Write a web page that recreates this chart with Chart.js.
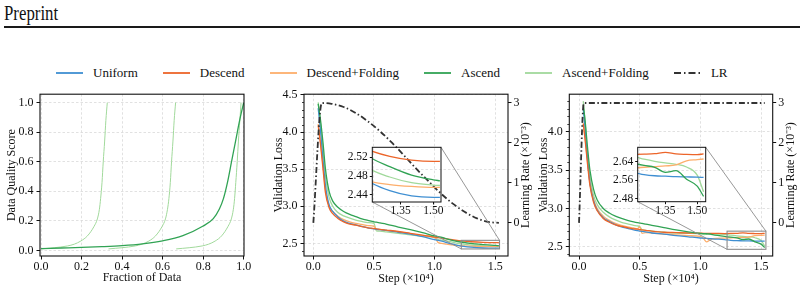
<!DOCTYPE html>
<html lang="en">
<head>
<meta charset="utf-8">
<title>Curvas de pérdida</title>
<script src="https://cdn.jsdelivr.net/npm/chart.js@4.4.1/dist/chart.umd.min.js"></script>
<style>
  html, body { margin: 0; padding: 0; background: #fff; }
  body { position: relative; width: 804px; height: 293px; overflow: hidden; font-family: 'Liberation Serif', 'Times New Roman', serif; color: #111; }
  #cabecera { position: absolute; left: 4px; top: 1px; font-size: 20px; line-height: 24px; transform: scaleX(0.84); transform-origin: left top; }
  #regla { position: absolute; left: 4px; top: 26px; width: 796px; height: 1.5px; background: #1a1a1a; }
  #leyenda { position: absolute; left: 56px; top: 64px; height: 18px; display: flex; align-items: center; gap: 25px; font-size: 13px; white-space: nowrap; }
  .item { display: flex; align-items: center; }
  .item svg { margin-right: 10px; display: block; }
  canvas { position: absolute; }
</style>
</head>
<body>
<div id="cabecera">Preprint</div>
<div id="regla"></div>
<div id="leyenda"></div>
<canvas id="graficaCalidad" width="262" height="209" style="left:0;top:84px"></canvas>
<canvas id="graficaCoseno" width="276" height="209" style="left:262px;top:84px"></canvas>
<canvas id="graficaConstante" width="274" height="209" style="left:530px;top:84px"></canvas>
<canvas id="zoomCoseno" width="116" height="88" style="left:330px;top:138px"></canvas>
<canvas id="zoomConstante" width="115" height="88" style="left:596px;top:138px"></canvas>
<script>
// Series y colores
var nombres = ['Uniform', 'Descend', 'Descend+Folding', 'Ascend', 'Ascend+Folding'];
var colores = ['#3f8fd2', '#ec652a', '#fdae6b', '#31a354', '#a1d99b'];
var colorLr = '#333333';

// Panel izquierdo: calidad de datos vs fracción de datos
var fraccionAsc = [0, 0.1, 0.2, 0.3, 0.4, 0.5, 0.6, 0.7, 0.8, 0.85, 0.88, 0.9, 0.92, 0.94, 0.96, 0.98, 1.0];
var calidadAsc = [0.012, 0.016, 0.02, 0.025, 0.032, 0.044, 0.065, 0.1, 0.165, 0.215, 0.28, 0.35, 0.46, 0.6, 0.74, 0.88, 1.0];
var fraccionPleg1 = [0, 0.033, 0.065, 0.098, 0.131, 0.164, 0.196, 0.229, 0.262, 0.278, 0.288, 0.294, 0.301, 0.307, 0.314, 0.32, 0.327];
var fraccionPleg2 = [0.333, 0.366, 0.399, 0.432, 0.465, 0.498, 0.532, 0.565, 0.598, 0.614, 0.624, 0.631, 0.638, 0.644, 0.651, 0.657, 0.664];
var fraccionPleg3 = [0.667, 0.699, 0.731, 0.763, 0.795, 0.827, 0.859, 0.891, 0.923, 0.939, 0.949, 0.955, 0.961, 0.968, 0.974, 0.981, 0.987];
var calidadPleg = [0.01, 0.014, 0.018, 0.023, 0.03, 0.042, 0.063, 0.098, 0.163, 0.213, 0.278, 0.35, 0.46, 0.6, 0.74, 0.88, 1.0];

// Panel central: LR coseno
var pasosCos = [0.04, 0.06, 0.08, 0.1, 0.13, 0.16, 0.2, 0.25, 0.3, 0.35, 0.4, 0.45, 0.5, 0.52, 0.55, 0.6, 0.7, 0.8, 0.9, 1.0, 1.03, 1.06, 1.1, 1.2, 1.3, 1.4, 1.5, 1.53];
var uniformeCos = [4.32, 4.0, 3.62, 3.28, 3.02, 2.93, 2.86, 2.8, 2.77, 2.75, 2.73, 2.71, 2.695, 2.69, 2.685, 2.675, 2.65, 2.625, 2.59, 2.55, 2.54, 2.53, 2.51, 2.47, 2.449, 2.438, 2.435, 2.435];
var descCos = [4.09, 3.82, 3.5, 3.18, 2.98, 2.9, 2.84, 2.79, 2.76, 2.745, 2.725, 2.71, 2.7, 2.695, 2.69, 2.68, 2.66, 2.635, 2.61, 2.585, 2.578, 2.57, 2.56, 2.536, 2.522, 2.514, 2.511, 2.511];
var descPlegCos = [4.11, 3.85, 3.55, 3.22, 3.0, 2.93, 2.87, 2.82, 2.79, 2.77, 2.755, 2.74, 2.73, 2.69, 2.685, 2.675, 2.655, 2.63, 2.605, 2.58, 2.51, 2.5, 2.49, 2.47, 2.462, 2.458, 2.456, 2.456];
var ascCos = [4.38, 4.15, 3.85, 3.5, 3.2, 3.07, 2.99, 2.93, 2.89, 2.86, 2.83, 2.81, 2.79, 2.785, 2.775, 2.76, 2.72, 2.685, 2.645, 2.6, 2.59, 2.58, 2.56, 2.522, 2.5, 2.482, 2.472, 2.47];
var ascPlegCos = [4.4, 4.1, 3.75, 3.4, 3.12, 3.0, 2.92, 2.87, 2.84, 2.815, 2.795, 2.78, 2.77, 2.67, 2.665, 2.655, 2.635, 2.615, 2.595, 2.58, 2.55, 2.545, 2.535, 2.497, 2.478, 2.466, 2.461, 2.46];
var pasosLrCos = [0, 0.07, 0.15, 0.25, 0.35, 0.45, 0.55, 0.65, 0.75, 0.85, 0.95, 1.05, 1.15, 1.25, 1.35, 1.45, 1.53];
var lrCos = [0, 3.0, 2.98, 2.9, 2.75, 2.54, 2.29, 2.0, 1.68, 1.35, 1.04, 0.74, 0.48, 0.27, 0.11, 0.02, 0.0];

// Panel derecho: LR constante
var pasosCte = [0.035, 0.05, 0.07, 0.09, 0.12, 0.15, 0.2, 0.25, 0.3, 0.35, 0.4, 0.45, 0.48, 0.5, 0.52, 0.55, 0.6, 0.7, 0.8, 0.9, 1.0, 1.03, 1.05, 1.08, 1.1, 1.2, 1.25, 1.3, 1.35, 1.4, 1.45, 1.5, 1.53];
var uniformeCte = [4.3, 4.05, 3.65, 3.33, 3.1, 2.98, 2.88, 2.83, 2.79, 2.76, 2.74, 2.72, 2.71, 2.705, 2.7, 2.695, 2.68, 2.665, 2.645, 2.63, 2.615, 2.612, 2.61, 2.606, 2.603, 2.594, 2.585, 2.58, 2.578, 2.576, 2.575, 2.574, 2.573];
var descCte = [4.11, 3.9, 3.58, 3.3, 3.08, 2.97, 2.87, 2.82, 2.785, 2.765, 2.75, 2.735, 2.73, 2.725, 2.72, 2.715, 2.705, 2.69, 2.685, 2.68, 2.677, 2.676, 2.676, 2.675, 2.675, 2.673, 2.674, 2.676, 2.682, 2.675, 2.673, 2.672, 2.675];
var descPlegCte = [4.1, 3.92, 3.62, 3.34, 3.12, 3.0, 2.9, 2.845, 2.805, 2.78, 2.76, 2.745, 2.735, 2.76, 2.675, 2.685, 2.68, 2.665, 2.655, 2.645, 2.635, 2.6, 2.565, 2.59, 2.605, 2.614, 2.617, 2.62, 2.623, 2.627, 2.645, 2.65, 2.653];
var ascCte = [4.35, 4.15, 3.8, 3.5, 3.25, 3.11, 3.0, 2.94, 2.9, 2.87, 2.845, 2.825, 2.815, 2.81, 2.805, 2.795, 2.78, 2.75, 2.72, 2.695, 2.675, 2.672, 2.67, 2.667, 2.66, 2.635, 2.625, 2.617, 2.595, 2.602, 2.565, 2.535, 2.49];
var ascPlegCte = [4.4, 4.12, 3.72, 3.42, 3.17, 3.05, 2.95, 2.89, 2.85, 2.82, 2.8, 2.78, 2.772, 2.765, 2.72, 2.715, 2.705, 2.69, 2.68, 2.675, 2.67, 2.66, 2.662, 2.666, 2.668, 2.663, 2.652, 2.643, 2.636, 2.63, 2.618, 2.583, 2.51];
var pasosLrCte = [0, 0.04, 1.53];
var lrCte = [0, 3.0, 3.0];

// Marcas de los ejes
var ticksFraccion = [0, 0.2, 0.4, 0.6, 0.8, 1.0];
var ticksCalidad = [0, 0.2, 0.4, 0.6, 0.8, 1.0];
var ticksPaso = [0, 0.5, 1.0, 1.5];
var ticksPerdidaCos = [2.5, 3.0, 3.5, 4.0, 4.5];
var ticksPerdidaCte = [2.5, 3.0, 3.5, 4.0];
var ticksMenoresPerdida = [2.4, 2.6, 2.7, 2.8, 2.9, 3.1, 3.2, 3.3, 3.4, 3.6, 3.7, 3.8, 3.9, 4.1, 4.2, 4.3, 4.4];
var ticksLr = [0, 1, 2, 3];
var ticksZoomPaso = [1.35, 1.5];
var ticksZoomCos = [2.44, 2.48, 2.52];
var ticksZoomCte = [2.48, 2.56, 2.64];

var fuente = "'Liberation Serif', 'Times New Roman', serif";
Chart.defaults.font.family = fuente;
Chart.defaults.font.size = 12;
Chart.defaults.color = '#111';
Chart.defaults.animation = false;

// Leyenda común arriba
var leyenda = document.getElementById('leyenda');
function agregarItem(nombre, color, punteada) {
    var item = document.createElement('div');
    item.className = 'item';
    item.innerHTML = '<svg width="27" height="6"><line x1="0" y1="3" x2="27" y2="3" stroke="' + color + '" stroke-width="1.8"' +
        (punteada ? ' stroke-dasharray="7,3,1.5,3"' : '') + '/></svg><span>' + nombre + '</span>';
    leyenda.appendChild(item);
}
for (var i = 0; i < nombres.length; i++) {
    agregarItem(nombres[i], colores[i], false);
}
agregarItem('LR', colorLr, true);

function puntos(xs, ys) {
    return xs.map(function (x, k) { return { x: x, y: ys[k] }; });
}

// Eje genérico con marcas fijas
function eje(min, max, lista, decimales, tamano, opciones) {
    var e = {
        type: 'linear',
        min: min,
        max: max,
        position: opciones.posicion,
        afterBuildTicks: function (s) { s.ticks = lista.map(function (v) { return { value: v }; }); },
        afterFit: function (s) {
            if (opciones.alto !== undefined) s.height = opciones.alto;
            if (opciones.ancho !== undefined) s.width = opciones.ancho;
        },
        ticks: {
            autoSkip: false, maxRotation: 0, padding: opciones.padTick,
            font: { size: tamano },
            callback: function (v) { return v.toFixed(decimales); }
        },
        grid: {
            drawOnChartArea: opciones.rejilla,
            color: '#d9d9d9', lineWidth: 0.8,
            tickColor: '#111', tickWidth: 1, tickLength: opciones.largoTick || 3.5
        },
        border: { display: false, dash: [2.5, 2] },
        title: { display: false }
    };
    if (opciones.titulo) {
        e.title = { display: true, text: opciones.titulo, font: { size: 12 }, padding: opciones.padTitulo };
    }
    return e;
}

// Marco negro alrededor del área
var marco = {
    id: 'marco',
    afterDraw: function (chart) {
        var a = chart.chartArea, ctx = chart.ctx;
        ctx.save();
        ctx.strokeStyle = '#111';
        ctx.lineWidth = chart.config.options.grosorMarco || 1.1;
        ctx.strokeRect(a.left, a.top, a.right - a.left, a.bottom - a.top);
        ctx.restore();
    }
};

// Marcas menores del eje izquierdo
var menores = {
    id: 'menores',
    afterDraw: function (chart) {
        var a = chart.chartArea, ctx = chart.ctx, sy = chart.scales.y;
        ctx.save();
        ctx.strokeStyle = '#111';
        ctx.lineWidth = 0.8;
        ctx.beginPath();
        ticksMenoresPerdida.forEach(function (v) {
            if (v < sy.min || v > sy.max) return;
            var py = Math.round(sy.getPixelForValue(v)) + 0.5;
            ctx.moveTo(a.left - 2, py);
            ctx.lineTo(a.left, py);
        });
        ctx.stroke();
        ctx.restore();
    }
};

// Título del eje derecho, leído de abajo hacia arriba como el izquierdo
function crearTituloDerecho(texto, separacion) {
    return {
        id: 'tituloDerecho',
        afterDraw: function (chart) {
            var a = chart.chartArea, ctx = chart.ctx;
            ctx.save();
            ctx.translate(a.right + separacion, (a.top + a.bottom) / 2);
            ctx.rotate(-Math.PI / 2);
            ctx.font = '12px ' + fuente;
            ctx.fillStyle = '#111';
            ctx.textAlign = 'center';
            ctx.textBaseline = 'middle';
            ctx.fillText(texto, 0, 0);
            ctx.restore();
        }
    };
}

// Rectángulo de zoom y líneas hacia el recuadro
function crearLupa(zoom, dx, dy) {
    return {
        id: 'lupa',
        afterDatasetsDraw: function (chart) {
            var ctx = chart.ctx, sx = chart.scales.x, sy = chart.scales.y;
            var izq = sx.getPixelForValue(zoom.scales.x.min);
            var der = sx.getPixelForValue(zoom.scales.x.max);
            var arriba = sy.getPixelForValue(zoom.scales.y.max);
            var abajo = sy.getPixelForValue(zoom.scales.y.min);
            var z = zoom.chartArea;
            ctx.save();
            ctx.strokeStyle = '#8c8c8c';
            ctx.lineWidth = 1.1;
            ctx.strokeRect(izq, arriba, der - izq, abajo - arriba);
            ctx.lineWidth = 0.9;
            ctx.beginPath();
            ctx.moveTo(z.right + dx, z.top + dy);
            ctx.lineTo(der, arriba);
            ctx.moveTo(z.left + dx, z.bottom + dy);
            ctx.lineTo(izq, abajo);
            ctx.stroke();
            ctx.restore();
        }
    };
}

function datasetsPerdida(pasos, listas, grosor) {
    var orden = [3, 2, 4, 1, 5];
    return listas.map(function (ys, k) {
        return {
            label: nombres[k],
            data: puntos(pasos, ys),
            borderColor: colores[k],
            borderWidth: grosor,
            pointRadius: 0,
            order: orden[k],
            yAxisID: 'y'
        };
    });
}

function datasetLr(pasos, valores) {
    return {
        label: 'LR',
        data: puntos(pasos, valores),
        borderColor: colorLr,
        borderWidth: 1.8,
        borderDash: [6, 2.5, 1.5, 2.5],
        pointRadius: 0,
        order: 0,
        yAxisID: 'y1'
    };
}

var opcionesBase = {
    responsive: false,
    animation: false,
    devicePixelRatio: 1,
    plugins: { legend: { display: false }, tooltip: { enabled: false } },
    elements: { point: { radius: 0 }, line: { cubicInterpolationMode: 'monotone' } }
};

function opciones(padding, escalas) {
    return Object.assign({}, opcionesBase, { layout: { padding: padding }, scales: escalas });
}

// Panel izquierdo
new Chart(document.getElementById('graficaCalidad'), {
    type: 'line',
    data: {
        datasets: [
            { label: 'Ascend', data: puntos(fraccionAsc, calidadAsc), borderColor: colores[3], borderWidth: 1.3, order: 0 },
            { label: 'Ascend+Folding', data: puntos(fraccionPleg1, calidadPleg), borderColor: colores[4], borderWidth: 1, order: 1 },
            { label: 'Ascend+Folding', data: puntos(fraccionPleg2, calidadPleg), borderColor: colores[4], borderWidth: 1, order: 1 },
            { label: 'Ascend+Folding', data: puntos(fraccionPleg3, calidadPleg), borderColor: colores[4], borderWidth: 1, order: 1 }
        ]
    },
    options: opciones({ top: 10, right: 18, left: 0, bottom: 0 }, {
        x: eje(-0.005, 1.0015, ticksFraccion, 1, 12, { posicion: 'bottom', alto: 37, padTick: 0, rejilla: true,
            titulo: 'Fraction of Data', padTitulo: { top: 0, bottom: 8 } }),
        y: eje(-0.038, 1.057, ticksCalidad, 1, 12, { posicion: 'left', ancho: 40, padTick: 3, rejilla: true,
            titulo: 'Data Quality Score', padTitulo: { top: 5, bottom: 0 } })
    }),
    plugins: [marco]
});

// Recuadros de zoom
function crearZoom(id, listas, pasos, rx, ry, ticksY, geo) {
    return new Chart(document.getElementById(id), {
        type: 'line',
        data: { datasets: datasetsPerdida(pasos, listas, 1.3) },
        options: Object.assign(opciones({ top: geo.arriba, right: geo.derecha, left: 0, bottom: 0 }, {
            x: eje(rx[0], rx[1], ticksZoomPaso, 2, 11.5, { posicion: 'bottom', alto: geo.alto, padTick: 0, rejilla: false, largoTick: 2.5 }),
            y: eje(ry[0], ry[1], ticksY, 2, 11.5, { posicion: 'left', ancho: geo.ancho, padTick: 2, rejilla: false, largoTick: 2.5 })
        }), { grosorMarco: 1 }),
        plugins: [marco]
    });
}

var zoomCos = crearZoom('zoomCoseno', [uniformeCos, descCos, descPlegCos, ascCos, ascPlegCos], pasosCos,
    [1.22, 1.535], [2.425, 2.541], ticksZoomCos, { arriba: 9.3, derecha: 5, alto: 24, ancho: 42.3 });
var zoomCte = crearZoom('zoomConstante', [uniformeCte, descCte, descPlegCte, ascCte, ascPlegCte], pasosCte,
    [1.22, 1.54], [2.467, 2.704], ticksZoomCte, { arriba: 9.3, derecha: 5.3, alto: 24.3, ancho: 41.7 });

// Paneles de pérdida con eje secundario de LR
function crearPanel(id, listas, pasos, lrPasos, lrValores, rx, ry, ticksY, geo, zoom) {
    var datos = datasetsPerdida(pasos, listas, 1.3);
    datos.push(datasetLr(lrPasos, lrValores));
    return new Chart(document.getElementById(id), {
        type: 'line',
        data: { datasets: datos },
        options: opciones({ top: 10, right: 0, left: 0, bottom: 0 }, {
            x: eje(rx[0], rx[1], ticksPaso, 1, 12, { posicion: 'bottom', alto: 37, padTick: 0, rejilla: true,
                titulo: 'Step (×10⁴)', padTitulo: { top: 0, bottom: 7 } }),
            y: eje(ry[0], ry[1], ticksY, 1, 12, { posicion: 'left', ancho: geo.izq, padTick: 3, rejilla: true,
                titulo: 'Validation Loss', padTitulo: { top: geo.padIzq, bottom: 0 } }),
            y1: eje(-0.83, 3.22, ticksLr, 0, 12, { posicion: 'right', ancho: geo.der, padTick: 2, rejilla: false })
        }),
        plugins: [marco, menores, crearLupa(zoom, geo.dx, geo.dy), crearTituloDerecho('Learning Rate (×10⁻³)', 18)]
    });
}

crearPanel('graficaCoseno', [uniformeCos, descCos, descPlegCos, ascCos, ascPlegCos], pasosCos, pasosLrCos, lrCos,
    [-0.077, 1.605], [2.33, 4.51], ticksPerdidaCos, { izq: 42, der: 30, padIzq: 9.8, dx: 68, dy: 54 }, zoomCos);
crearPanel('graficaConstante', [uniformeCte, descCte, descPlegCte, ascCte, ascPlegCte], pasosCte, pasosLrCte, lrCte,
    [-0.08, 1.596], [2.38, 4.49], ticksPerdidaCte, { izq: 39.3, der: 31.3, padIzq: 6.8, dx: 66, dy: 54 }, zoomCte);
</script>
</body>
</html>
